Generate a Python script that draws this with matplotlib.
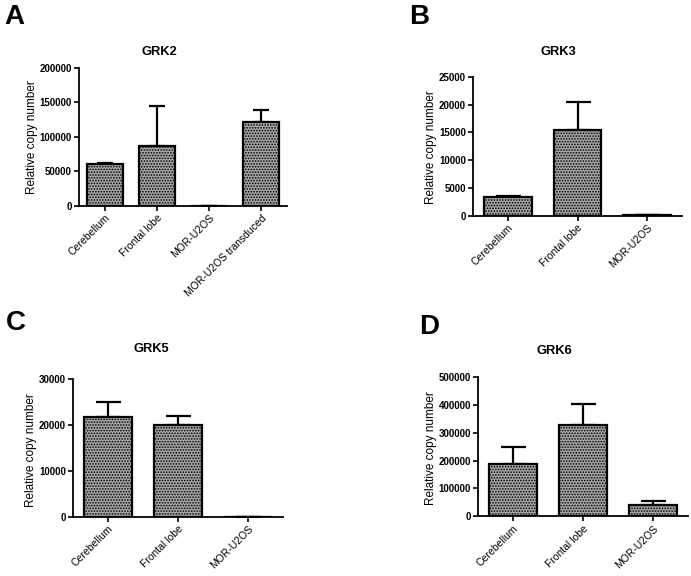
import matplotlib
matplotlib.use("Agg")
import matplotlib.pyplot as plt

plt.rcParams['font.family'] = ['Liberation Sans', 'DejaVu Sans']
plt.rcParams['hatch.color'] = '#202020'
plt.rcParams['hatch.linewidth'] = 0.8

W, H = 691, 576

# ---- data ----
grk2_cats = ["Cerebellum", "Frontal lobe", "MOR-U2OS", "MOR-U2OS transduced"]
grk2_vals = [60500, 87000, 600, 121000]
grk2_err = [2000, 57500, 0, 18500]
grk2_ticks = [0, 50000, 100000, 150000, 200000]

grk3_cats = ["Cerebellum", "Frontal lobe", "MOR-U2OS"]
grk3_vals = [3350, 15400, 250]
grk3_err = [300, 5100, 0]
grk3_ticks = [0, 5000, 10000, 15000, 20000, 25000]

grk5_cats = ["Cerebellum", "Frontal lobe", "MOR-U2OS"]
grk5_vals = [21700, 20000, 0]
grk5_err = [3200, 2000, 0]
grk5_ticks = [0, 10000, 20000, 30000]

grk6_cats = ["Cerebellum", "Frontal lobe", "MOR-U2OS"]
grk6_vals = [187000, 328000, 42000]
grk6_err = [62000, 75000, 12000]
grk6_ticks = [0, 100000, 200000, 300000, 400000, 500000]

fig = plt.figure(figsize=(W / 100, H / 100), dpi=100)


def px(x, y):
    return x / W, 1 - y / H


def rect(l, t, r, b):
    return [l / W, 1 - b / H, (r - l) / W, (b - t) / H]


panels = [
    dict(rect=rect(79, 67.7, 287, 206), cats=grk2_cats, vals=grk2_vals, err=grk2_err,
         ticks=grk2_ticks, title="GRK2", tpos=(159, 52), ypos=(32, 137),
         letter="A", lpos=(14, 17), cap=6),
    dict(rect=rect(473, 76.7, 682, 216), cats=grk3_cats, vals=grk3_vals, err=grk3_err,
         ticks=grk3_ticks, title="GRK3", tpos=(558, 52), ypos=(431, 147),
         letter="B", lpos=(419, 17), cap=9),
    dict(rect=rect(72.7, 379, 283, 517), cats=grk5_cats, vals=grk5_vals, err=grk5_err,
         ticks=grk5_ticks, title="GRK5", tpos=(151, 349), ypos=(31, 450),
         letter="C", lpos=(16, 323), cap=9),
    dict(rect=rect(478, 377.3, 687.7, 516.3), cats=grk6_cats, vals=grk6_vals, err=grk6_err,
         ticks=grk6_ticks, title="GRK6", tpos=(554, 351), ypos=(431, 448),
         letter="D", lpos=(429, 327), cap=9),
]

for p in panels:
    ax = fig.add_axes(p["rect"])
    n = len(p["cats"])
    xs = list(range(n))
    ax.bar(xs, p["vals"], width=0.68, facecolor='#a6a6a6', edgecolor='black',
           linewidth=1.6, hatch='......', zorder=2)
    errs = [[0] * n, p["err"]]
    ax.errorbar(xs, p["vals"], yerr=errs, fmt='none', ecolor='black',
                elinewidth=1.6, capsize=p["cap"], capthick=1.6, zorder=1)
    ax.set_xlim(-0.5, n - 0.5)
    ax.set_ylim(0, p["ticks"][-1])
    ax.set_yticks(p["ticks"])
    ax.set_yticklabels([str(t) for t in p["ticks"]], fontsize=7, fontweight='bold')
    ax.set_xticks(xs)
    ax.set_xticklabels(p["cats"], rotation=45, ha='right', rotation_mode='anchor',
                       fontsize=7.5)
    for s in ['top', 'right']:
        ax.spines[s].set_visible(False)
    for s in ['left', 'bottom']:
        ax.spines[s].set_linewidth(1.3)
    ax.tick_params(axis='both', direction='out', length=3.5, width=1.2, pad=1.5)
    fx, fy = px(*p["tpos"])
    fig.text(fx, fy, p["title"], fontsize=9.3, fontweight='bold', ha='center', va='center')
    fx, fy = px(*p["ypos"])
    fig.text(fx, fy, "Relative copy number", fontsize=8.5, rotation=90,
             ha='center', va='center')
    fx, fy = px(*p["lpos"])
    fig.text(fx, fy, p["letter"], fontsize=20, fontweight='bold', ha='center', va='center')

fig.savefig("out.png", dpi=100)
